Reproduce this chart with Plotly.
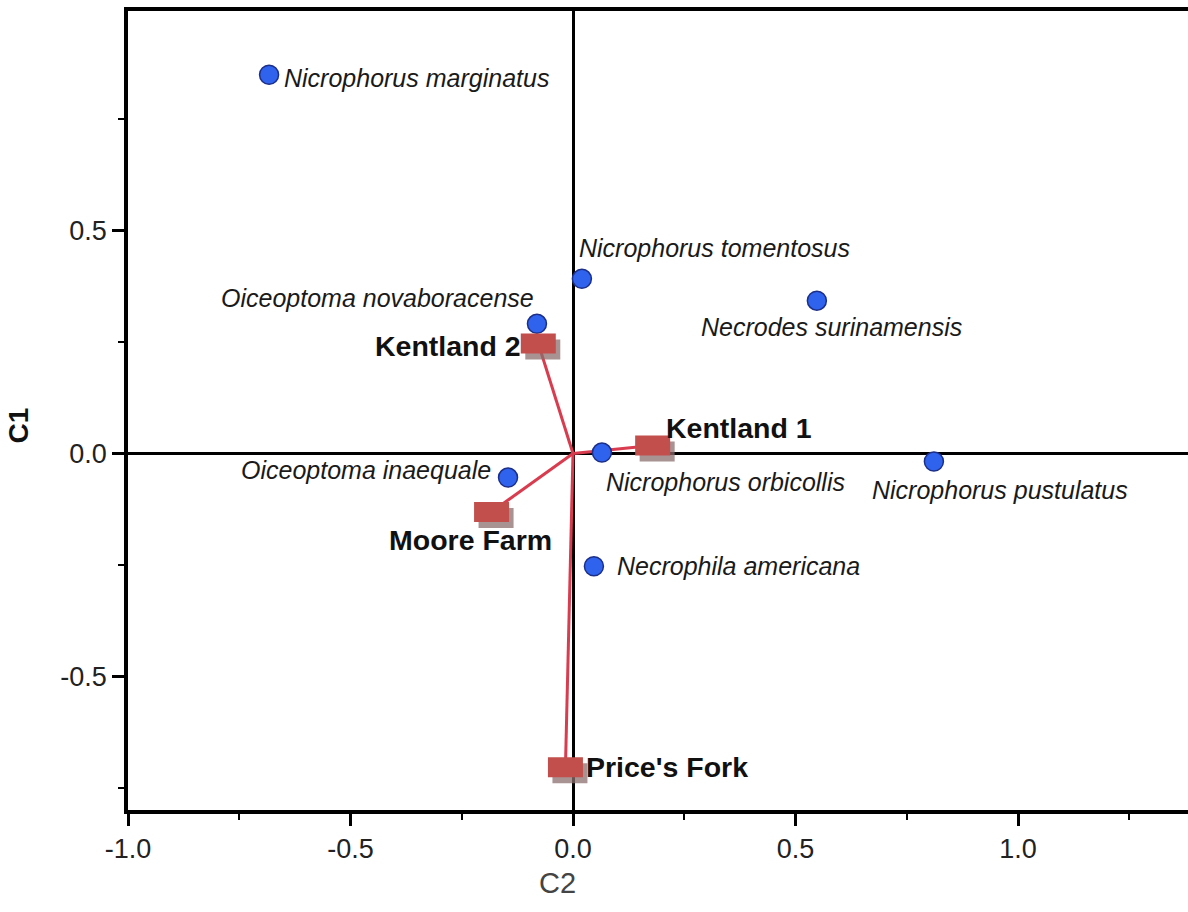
import plotly.graph_objects as go

# Species scores
species = ["Nicrophorus marginatus", "Nicrophorus tomentosus", "Oiceoptoma novaboracense",
           "Necrodes surinamensis", "Nicrophorus orbicollis", "Oiceoptoma inaequale",
           "Nicrophorus pustulatus", "Necrophila americana"]
sp_c2 = [-0.683, 0.020, -0.081, 0.548, 0.065, -0.146, 0.811, 0.047]
sp_c1 = [0.850, 0.392, 0.291, 0.343, 0.002, -0.054, -0.018, -0.253]

# Site scores
sites = ["Kentland 2", "Kentland 1", "Moore Farm", "Price's Fork"]
site_c2 = [-0.078, 0.179, -0.183, -0.017]
site_c1 = [0.247, 0.018, -0.131, -0.704]

x_ticks = [-1.0, -0.5, 0.0, 0.5, 1.0]
x_ticktext = ["-1.0", "-0.5", "0.0", "0.5", "1.0"]
y_ticks = [-0.5, 0.0, 0.5]
y_ticktext = ["-0.5", "0.0", "0.5"]

# label placement (anchor, xshift px, yshift px)
sp_lab = [("left", 13, -3), ("left", -5, 31), ("right", -1, 26), ("center", 15, -26),
          ("left", 2, -29), ("right", -15, 8), ("center", 66, -28), ("left", 21, 0)]
site_lab = [("right", -15, -3), ("left", 11, 17), ("center", -21, -28), ("left", 19, 0)]

FONT = "Liberation Sans, Arial"

fig = go.Figure()

# vectors from origin to sites
lx, ly = [], []
for a, b in zip(site_c2, site_c1):
    lx += [0, a, None]
    ly += [0, b, None]
fig.add_trace(go.Scatter(x=lx, y=ly, mode="lines",
                         line=dict(color="#d93c4e", width=3), hoverinfo="skip"))

# species points
fig.add_trace(go.Scatter(x=sp_c2, y=sp_c1, mode="markers",
                         marker=dict(size=19, color="#2f63ee",
                                     line=dict(color="#1b2f8a", width=1.5)),
                         text=species, hoverinfo="text"))

shapes = []
for a, b in zip(site_c2, site_c1):
    # shadow
    shapes.append(dict(type="rect", xref="x", yref="y", xsizemode="pixel", ysizemode="pixel",
                       xanchor=a, yanchor=b, x0=-13, x1=22, y0=-16, y1=4,
                       fillcolor="rgba(140,110,110,0.75)", line=dict(width=0), layer="above"))
    shapes.append(dict(type="rect", xref="x", yref="y", xsizemode="pixel", ysizemode="pixel",
                       xanchor=a, yanchor=b, x0=-17.5, x1=17.5, y0=-10, y1=10,
                       fillcolor="#c24f4c", line=dict(width=0), layer="above"))

annotations = []
for name, a, b, (anc, xs, ys) in zip(species, sp_c2, sp_c1, sp_lab):
    annotations.append(dict(x=a, y=b, xref="x", yref="y", text="<i>" + name + "</i>",
                            showarrow=False, xanchor=anc, yanchor="middle", xshift=xs, yshift=ys,
                            font=dict(family=FONT, size=25, color="#1a1a1a")))
for name, a, b, (anc, xs, ys) in zip(sites, site_c2, site_c1, site_lab):
    annotations.append(dict(x=a, y=b, xref="x", yref="y", text="<b>" + name + "</b>",
                            showarrow=False, xanchor=anc, yanchor="middle", xshift=xs, yshift=ys,
                            font=dict(family=FONT, size=28.5, color="#111111")))

# axis titles
annotations.append(dict(x=-0.034, y=0, xref="x", yref="paper", text="C2", showarrow=False,
                        xanchor="center", yanchor="middle", yshift=-73,
                        font=dict(family=FONT, size=29, color="#444444")))
annotations.append(dict(x=0, y=0.063, xref="paper", yref="y", text="<b>C1</b>", showarrow=False,
                        xanchor="center", yanchor="middle", xshift=-110, textangle=-90,
                        font=dict(family=FONT, size=28, color="#111111")))

fig.update_layout(
    width=1188, height=912,
    margin=dict(l=128, r=0, t=11, b=102),
    plot_bgcolor="white", paper_bgcolor="white",
    showlegend=False,
    shapes=shapes, annotations=annotations,
    font=dict(family=FONT, size=27, color="#222222"),
)
axis_common = dict(showgrid=False, zeroline=True, zerolinecolor="black", zerolinewidth=3,
                   showline=True, linecolor="black", linewidth=3.5,
                   ticks="outside", ticklen=12, tickwidth=3, tickcolor="black",
                   tickfont=dict(family=FONT, size=27, color="#222222"),
                   minor=dict(dtick=0.25, ticks="outside", ticklen=6, tickwidth=2,
                              tickcolor="black", showgrid=False))
fig.update_xaxes(range=[-1.0, 1.382], tickvals=x_ticks, ticktext=x_ticktext, mirror=True,
                 **axis_common)
fig.update_yaxes(range=[-0.8, 0.993], tickvals=y_ticks, ticktext=y_ticktext, mirror=False,
                 **axis_common)

fig.write_html("out.html")
